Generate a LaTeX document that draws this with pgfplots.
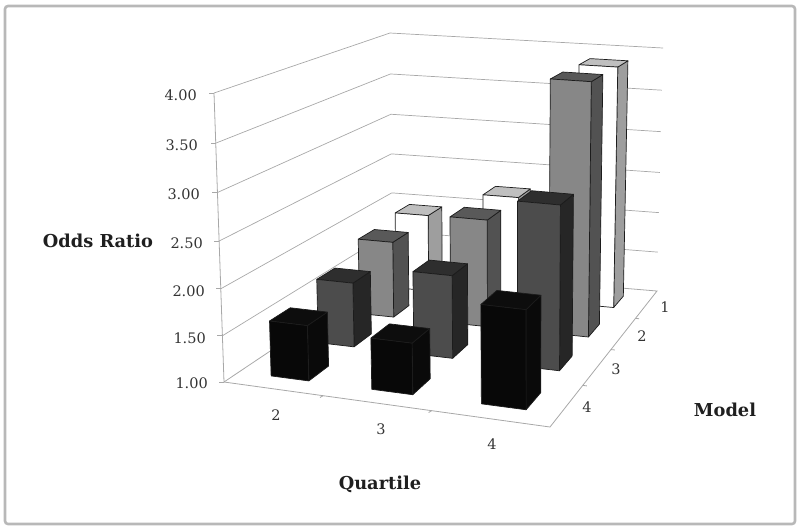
\documentclass[border=0pt]{standalone}
\usepackage{fontspec}
\setmainfont{DejaVu Serif}
\usepackage{pgfplots}
\pgfplotsset{compat=1.18}
\definecolor{gridc}{HTML}{A8A8A8}
\definecolor{edge}{HTML}{1C1C1C}
\pgfplotsset{
  persp/.style={
    /pgfplots/table/x expr={pxx(\thisrow{a},\thisrow{b},(\thisrow{c}-1)/3)},
    /pgfplots/table/y expr={pyy(\thisrow{a},\thisrow{b},(\thisrow{c}-1)/3)}},
  face/.style={fill=#1,draw=edge,line width=0.7pt,line join=round,mark=none},
}
% x: (quartile-1.5)/3 ; y: (4.5-model)/4 ; u,v = +-1 half widths
\newcommand\facepts[4]{%
 \addplot[face=#1] table[row sep=\\,
   x expr={pxx((#2-1.5)/3+0.0085+\thisrow{u}*0.064,(4.5-#3)/4+\thisrow{v}*0.0525,(\thisrow{c}-1)/3)},
   y expr={pyy((#2-1.5)/3+0.0085+\thisrow{u}*0.064,(4.5-#3)/4+\thisrow{v}*0.0525,(\thisrow{c}-1)/3)}]{#4};}
\newcommand\cuboid[6]{% quartile, model, value, side, top, front
 \facepts{#4}{#1}{#2}{u v c\\ 1 -1 1\\ 1 1 1\\ 1 1 #3\\ 1 -1 #3\\ 1 -1 1\\}%
 \facepts{#5}{#1}{#2}{u v c\\ -1 -1 #3\\ 1 -1 #3\\ 1 1 #3\\ -1 1 #3\\ -1 -1 #3\\}%
 \facepts{#6}{#1}{#2}{u v c\\ -1 -1 1\\ 1 -1 1\\ 1 -1 #3\\ -1 -1 #3\\ -1 -1 1\\}%
}
\newcommand\wallline[1]{\addplot[gridc,line width=0.7pt,mark=none] table[row sep=\\,/pgfplots/persp]{a b c\\ 0 0 #1\\ 0 1 #1\\ 1 1 #1\\};}
\begin{document}
\begin{tikzpicture}[x=1pt,y=1pt]
\begin{axis}[
  scale only axis,width=800pt,height=531pt,
  xmin=0,xmax=800,ymin=0,ymax=531,y dir=reverse,
  axis lines=none,clip=false,unbounded coords=jump,
  declare function={
    wpp(\x,\y)=1-0.12336*\x+0.2829*\y;
    tpp(\s)=\s/(1.05-0.05*\s);
    pxx(\x,\y,\s)=(258.15*\x+279.67*\y+224+tpp(\s)*(-10+10.3*\x+6.66*\y))/wpp(\x,\y);
    pyy(\x,\y,\s)=(-7.67*\x-36.9*\y+382+tpp(\s)*(-289+21*\x-13.76*\y))/wpp(\x,\y);
  },
]
\path (axis cs:0,0) rectangle (axis cs:800,531);
\draw[color=black!28,line width=2.6pt,rounded corners=3pt] (axis cs:5,6) rectangle (axis cs:795,524);
% walls
\wallline{1.5}\wallline{2}\wallline{2.5}\wallline{3}\wallline{3.5}\wallline{4}
\addplot[gridc,line width=0.8pt] table[row sep=\\,/pgfplots/persp]{a b c\\ 0 1 1\\ 0 0 1\\ 0 0 4\\};
\addplot[gridc,line width=0.8pt] table[row sep=\\,/pgfplots/persp]{a b c\\ 0 1 1\\ 1 1 1\\ 1 0 1\\ 0 0 1\\};
% value-axis ticks
\addplot[gridc,line width=0.8pt] table[row sep=\\,
  x expr={pxx(0,0,(\thisrow{c}-1)/3)+\thisrow{d}},y expr={pyy(0,0,(\thisrow{c}-1)/3)}]
  {c d\\ 1 0\\ 1 -5\\ nan nan\\ 1.5 0\\ 1.5 -5\\ nan nan\\ 2 0\\ 2 -5\\ nan nan\\ 2.5 0\\ 2.5 -5\\ nan nan\\ 3 0\\ 3 -5\\ nan nan\\ 3.5 0\\ 3.5 -5\\ nan nan\\ 4 0\\ 4 -5\\};
% floor ticks
\addplot[gridc,line width=0.8pt] table[row sep=\\,/pgfplots/persp]{a b c\\ 0.3333 0 1\\ 0.33 -0.012 1\\ nan nan nan\\ 0.6667 0 1\\ 0.664 -0.012 1\\ nan nan nan\\ 1 0.25 1\\ 1.012 0.25 1\\ nan nan nan\\ 1 0.5 1\\ 1.012 0.5 1\\ nan nan nan\\ 1 0.75 1\\ 1.012 0.75 1\\};
% bars, back to front
\cuboid{2}{1}{1.95}{black!38}{black!25}{white}
\cuboid{3}{1}{2.26}{black!38}{black!25}{white}
\cuboid{4}{1}{3.88}{black!38}{black!25}{white}
\cuboid{2}{2}{1.90}{black!68}{black!65}{black!47}
\cuboid{3}{2}{2.26}{black!68}{black!65}{black!47}
\cuboid{4}{2}{3.90}{black!68}{black!65}{black!47}
\cuboid{2}{3}{1.73}{black!85}{black!82}{black!70}
\cuboid{3}{3}{1.93}{black!85}{black!82}{black!70}
\cuboid{4}{3}{2.81}{black!85}{black!82}{black!70}
\cuboid{2}{4}{1.60}{black!96}{black!95}{black!97}
\cuboid{3}{4}{1.55}{black!96}{black!95}{black!97}
\cuboid{4}{4}{2.04}{black!96}{black!95}{black!97}
% text
\newcommand\tk[3]{\node[anchor=east,inner sep=0pt,text=black!80,font=\fontsize{14.5}{16}\selectfont] at (axis cs:#1,#2) {#3};}
\tk{197}{95}{4.00}\tk{198}{145}{3.50}\tk{200}{194}{3.00}\tk{203}{243}{2.50}\tk{205}{291}{2.00}\tk{206}{338}{1.50}\tk{208}{383}{1.00}
\newcommand\tc[3]{\node[inner sep=0pt,text=black!80,font=\fontsize{14.5}{16}\selectfont] at (axis cs:#1,#2) {#3};}
\tc{276}{415}{2}\tc{381}{429}{3}\tc{492}{444}{4}
\tc{665}{307}{1}\tc{642}{336}{2}\tc{616}{369}{3}\tc{587}{407}{4}
\newcommand\tb[3]{\node[inner sep=0pt,text=black!88,font=\fontsize{17.8}{20}\selectfont\bfseries] at (axis cs:#1,#2) {#3};}
\tb{98}{241}{Odds Ratio}\tb{380}{484}{Quartile}\tb{725}{410}{Model}
\end{axis}
\end{tikzpicture}
\end{document}
